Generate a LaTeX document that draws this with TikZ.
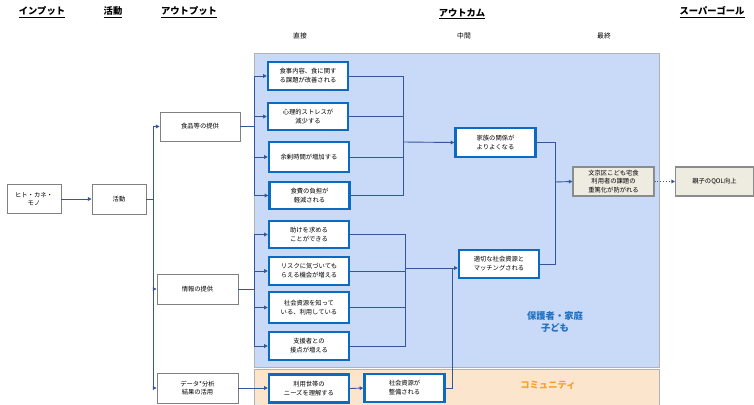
\documentclass[tikz,border=0pt]{standalone}
\usepackage{fontspec}
\setmainfont{Noto Sans CJK JP}
\usetikzlibrary{arrows.meta}
\definecolor{regblue}{HTML}{C9DAF8}
\definecolor{regorange}{HTML}{FCE5CD}
\definecolor{boxblue}{HTML}{0B6BC2}
\definecolor{conn}{HTML}{33579A}
\definecolor{beige}{HTML}{EEECE1}
\definecolor{lblblue}{HTML}{1F70C1}
\definecolor{lblorange}{HTML}{F6A02D}
\tikzset{
  region/.style={draw=black!30, line width=0.8pt},
  graybox/.style={draw=black!50, line width=0.9pt, fill=white, align=center, font=\fontsize{6.3}{8.5}\selectfont, inner sep=1pt},
  bluebox/.style={draw=boxblue, line width=2.4pt, fill=white, align=center, font=\fontsize{6.3}{9}\selectfont, inner sep=1pt, minimum width=80pt},
  beigebox/.style={draw=black!45, line width=1.1pt, fill=beige, align=center, font=\fontsize{6.3}{8.5}\selectfont, inner sep=1pt},
  head/.style={font=\fontsize{9.3}{11}\selectfont\bfseries},
  subhead/.style={font=\fontsize{6.8}{8}\selectfont},
  conline/.style={draw=conn, line width=0.9pt},
  arr/.style={conline, -{Triangle[width=3.6pt,length=3.6pt]}},
}
\begin{document}
\begin{tikzpicture}[x=1pt,y=-1pt]
\fill[white] (0,0) rectangle (754,404);
\useasboundingbox (0,0) rectangle (754,404);
% regions
\filldraw[region, fill=regblue] (254.5,53.5) rectangle (659,367.5);
\filldraw[region, fill=regorange] (254.5,369.5) rectangle (659,406);
% headers
\node[head] (hin) at (42,12) {\underline{インプット}};
\node[head] (hact) at (113,12) {\underline{活動}};
\node[head] (hout) at (189,12) {\underline{アウトプット}};
\node[head] (hoc) at (462,14) {\underline{アウトカム}};
\node[head] (hsg) at (712,12) {\underline{スーパーゴール}};
\node[subhead] (s1) at (300,36) {直接};
\node[subhead] (s2) at (464,36) {中間};
\node[subhead] (s3) at (604,36) {最終};
% region labels
\node[font=\fontsize{9.3}{12}\selectfont\bfseries, text=lblblue, align=center] (lb) at (555,322) {保護者・家庭\\子ども};
\node[font=\fontsize{9.3}{12}\selectfont\bfseries, text=lblorange] (lo) at (548,385) {コミュニティ};
% left boxes
\node[graybox, minimum width=54pt, minimum height=29pt] (inp) at (34,199) {ヒト・カネ・\\モノ};
\node[graybox, minimum width=54pt, minimum height=30pt] (act) at (119,199) {活動};
\node[graybox, minimum width=80pt, minimum height=29pt] (food) at (200,126.5) {食品等の提供};
\node[graybox, minimum width=81pt, minimum height=30pt] (info) at (197.5,289) {情報の提供};
\node[graybox, minimum width=81pt, minimum height=30pt] (data) at (197.5,388) {データ*分析\\結果の活用};
% direct outcomes
\node[bluebox, minimum height=28pt] (d1) at (308,76) {食事内容、食に関す\\る課題が改善される};
\node[bluebox, minimum height=27pt] (d2) at (308,116.5) {心理的ストレスが\\減少する};
\node[bluebox, minimum height=30pt] (d3) at (309,157) {余剰時間が増加する};
\node[bluebox, minimum height=27pt] (d4) at (309.5,195.5) {食費の負担が\\軽減される};
\node[bluebox, minimum height=27pt] (d5) at (309,234.5) {助けを求める\\ことができる};
\node[bluebox, minimum height=28pt] (d6) at (309,271) {リスクに気づいても\\らえる機会が増える};
\node[bluebox, minimum height=31pt] (d7) at (309,307.5) {社会資源を知って\\いる、利用している};
\node[bluebox, minimum height=28pt] (d8) at (309,346) {支援者との\\接点が増える};
\node[bluebox, minimum height=28pt] (d9) at (309,388.5) {利用世帯の\\ニーズを理解する};
\node[bluebox, minimum height=28pt] (d10) at (404.5,388) {社会資源が\\整備される};
% intermediate
\node[bluebox, minimum height=29pt] (m1) at (495.5,142.5) {家族の関係が\\よりよくなる};
\node[bluebox, minimum height=28pt] (m2) at (499,264) {適切な社会資源と\\マッチングされる};
% final
\node[beigebox, minimum width=81pt, minimum height=29pt] (f1) at (613.5,181.5) {文京区こども宅食\\利用者の課題の\\重篤化が防がれる};
\node[beigebox, minimum width=78pt, minimum height=29pt] (sg) at (714.5,181.5) {親子のQOL向上};
% connectors
\coordinate (tA) at (153,199);
\draw[arr] (inp.east) -- (act.west);
\draw[conline] (act.east) -- (tA);
\draw[arr] (tA) |- (food.west);
\draw[arr] (tA) |- (info.west);
\draw[arr] (tA) |- (data.west);
\coordinate (tF) at (254,126.5);
\draw[conline] (food.east) -- (tF);
\foreach \n in {d1,d2,d3,d4} \draw[arr] (tF) |- (\n.west);
\coordinate (tI) at (254,289);
\draw[conline] (info.east) -- (tI);
\foreach \n in {d5,d6,d7,d8} \draw[arr] (tI) |- (\n.west);
\coordinate (tB) at (403,142);
\foreach \n in {d1,d2,d3,d4} \draw[conline] (\n.east) -| (tB);
\draw[arr] (tB) -- (m1.west);
\coordinate (tC) at (405,268);
\foreach \n in {d5,d6,d7,d8} \draw[conline] (\n.east) -| (tC);
\draw[arr] (tC) -- (tC -| m2.west);
\draw[arr] (data.east) -- (data.east -| d9.west);
\draw[arr] (d9.east) -- (d10.west);
\coordinate (tD) at (452,268);
\draw[conline] (d10.east) -| (tD);
\coordinate (tE) at (555,182);
\draw[conline] (m1.east) -| (tE);
\draw[conline] (m2.east) -| (tE);
\draw[arr] (tE) -- (f1.west);
\draw[arr, dotted] (f1.east) -- (sg.west);
\end{tikzpicture}
\end{document}
